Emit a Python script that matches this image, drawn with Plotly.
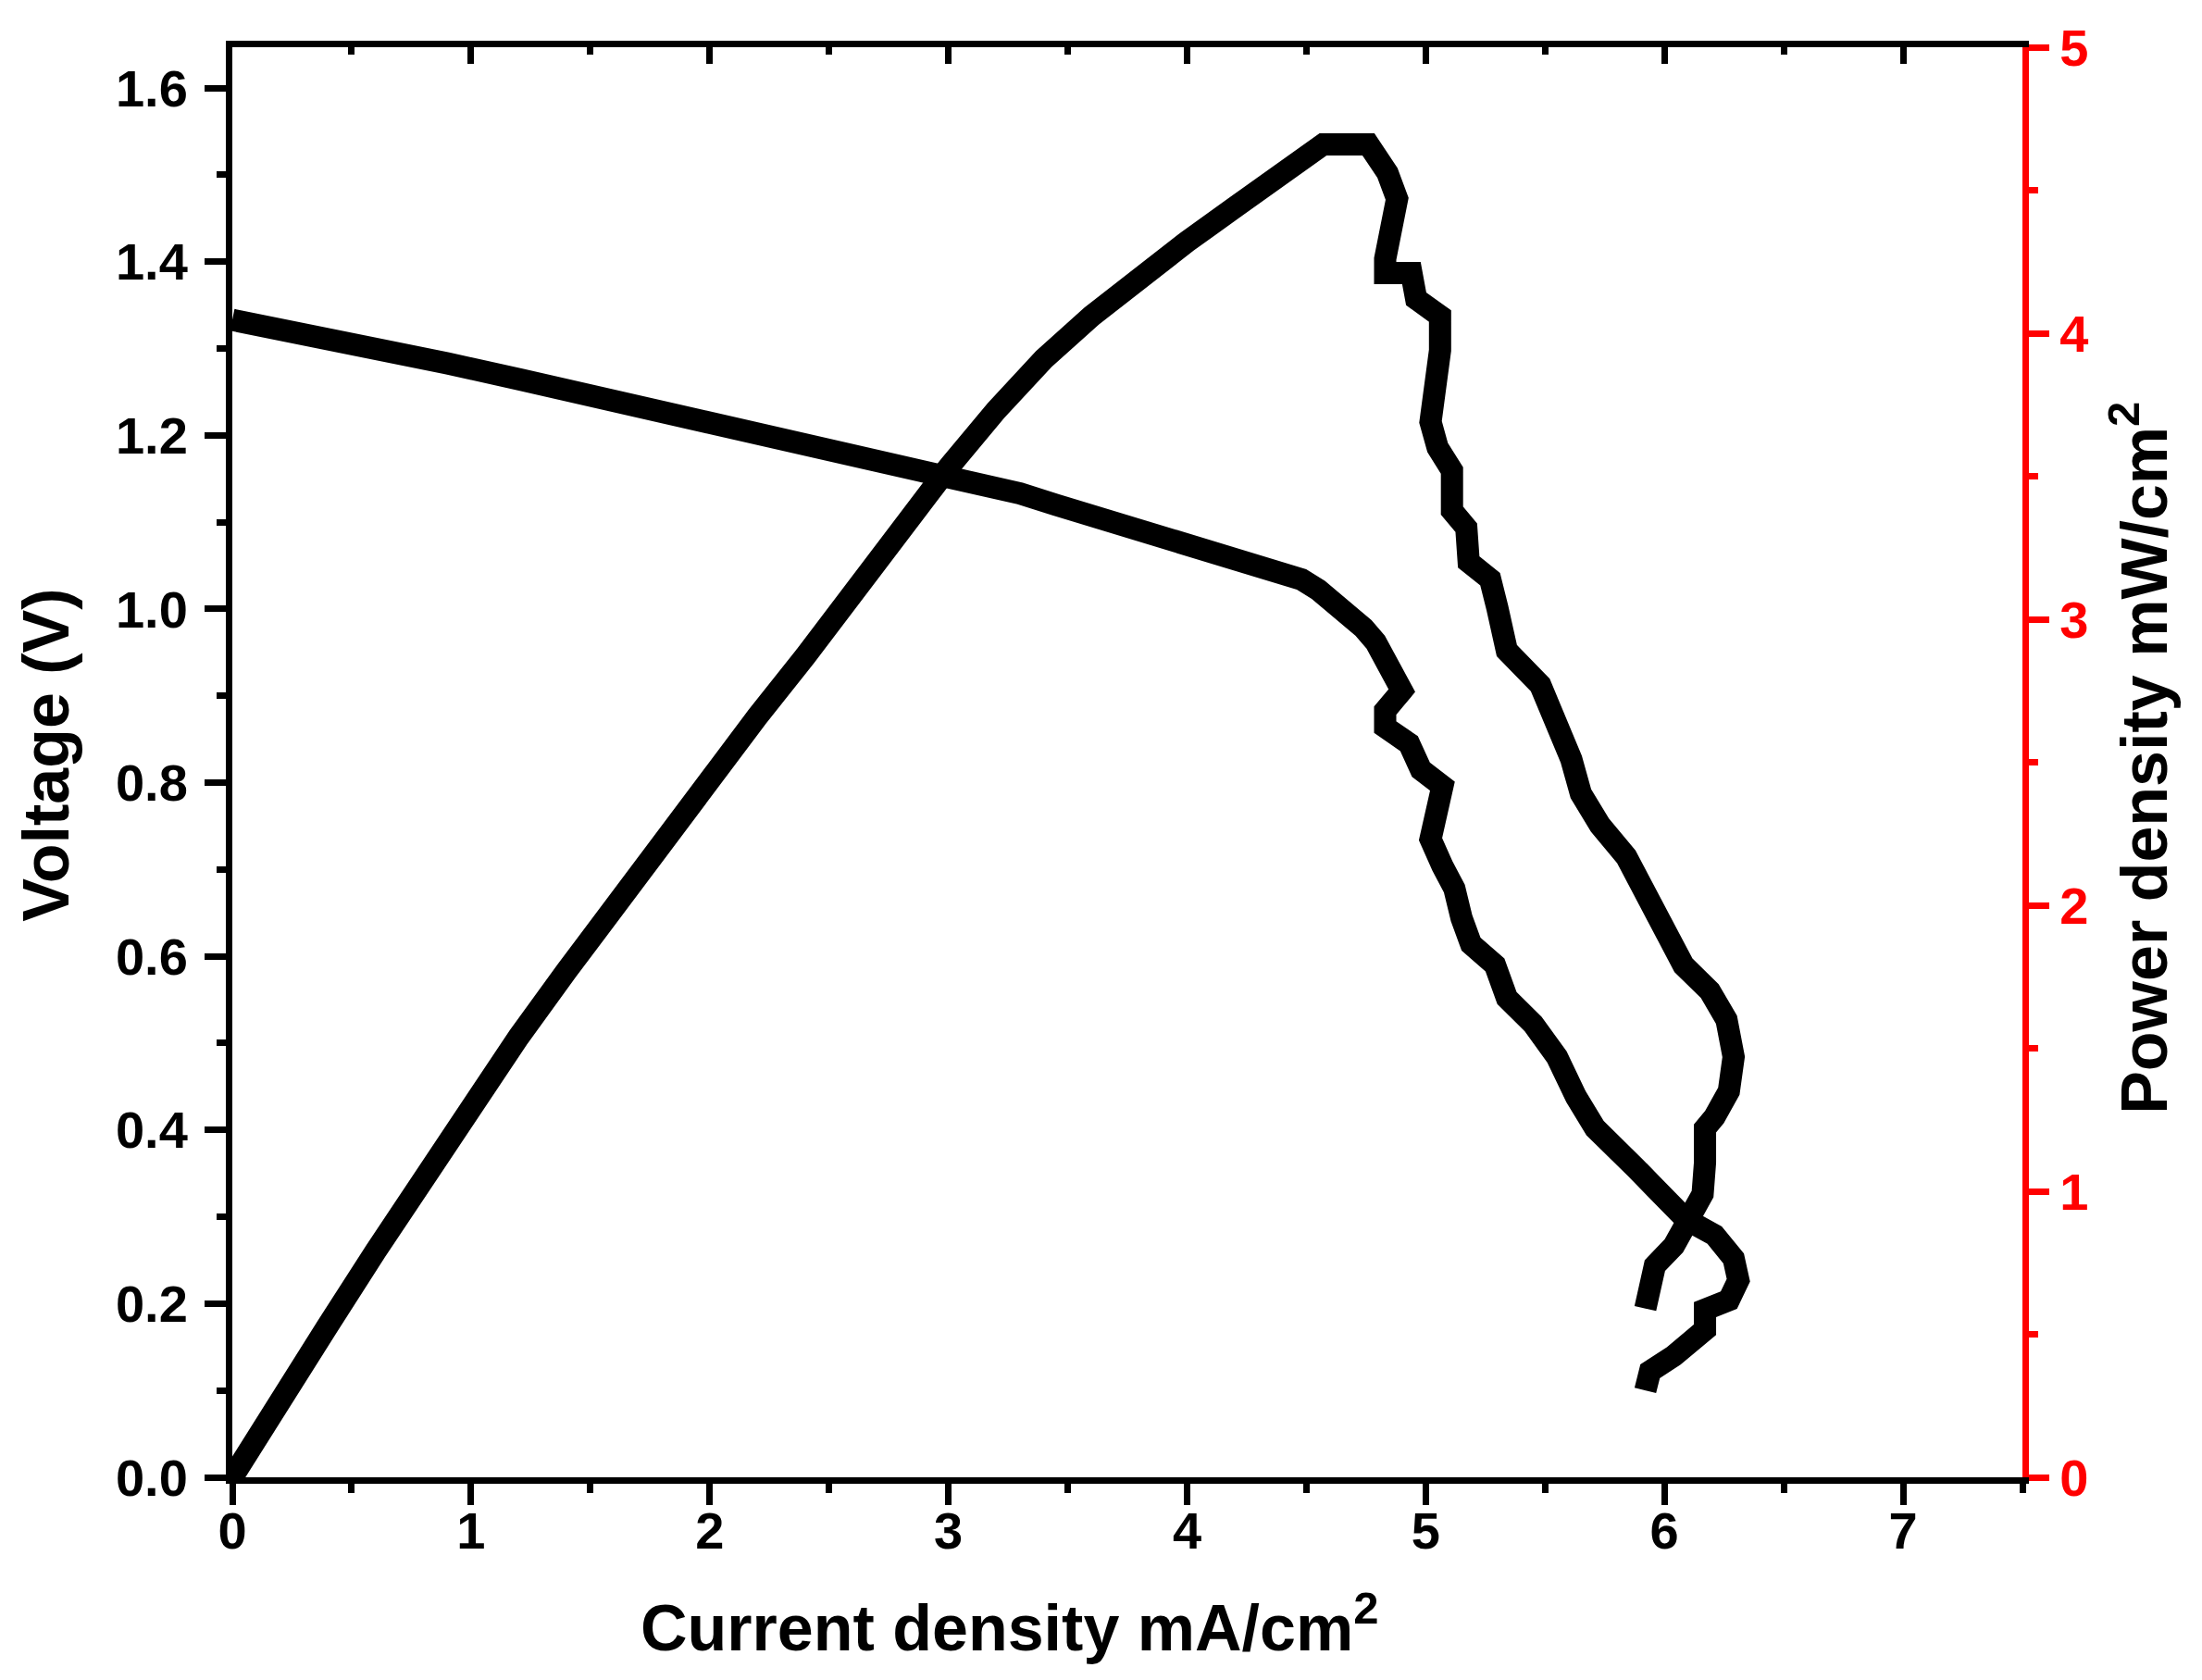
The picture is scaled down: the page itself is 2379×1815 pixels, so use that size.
import plotly.graph_objects as go

# ---------------- data ----------------
voltage_j = [0.00, 0.30, 0.60, 0.90, 1.21, 1.50, 1.83, 2.10, 2.38, 2.70, 3.00, 3.15,
             3.30, 3.45, 3.62, 3.75, 3.90, 4.05, 4.23, 4.32, 4.40, 4.48, 4.55, 4.62,
             4.68, 4.74, 4.79, 4.86, 4.90, 4.83, 4.83, 4.93,
             4.98, 5.07, 5.05, 5.02, 5.07, 5.12, 5.15, 5.19, 5.29, 5.34, 5.45, 5.55,
             5.63, 5.71, 5.88, 5.98, 6.09, 6.21, 6.29, 6.31, 6.27, 6.17, 6.17, 6.04,
             5.94, 5.92]
voltage_v = [1.333, 1.318, 1.301, 1.283, 1.264, 1.246, 1.226, 1.210, 1.192, 1.176, 1.157, 1.146,
             1.133, 1.120, 1.106, 1.096, 1.085, 1.073, 1.060, 1.052, 1.044, 1.034, 1.022, 1.008,
             0.994, 0.978, 0.962, 0.933, 0.906, 0.883, 0.864, 0.845,
             0.815, 0.796, 0.765, 0.735, 0.704, 0.678, 0.644, 0.614, 0.590, 0.552, 0.522, 0.484,
             0.438, 0.402, 0.356, 0.327, 0.297, 0.279, 0.252, 0.227, 0.204, 0.193, 0.170, 0.140,
             0.122, 0.100]

power_j = [0.00, 0.05, 0.20, 0.40, 0.60, 0.80, 1.00, 1.20, 1.40, 1.60, 1.80, 2.00,
           2.20, 2.40, 2.60, 2.80, 3.00, 3.20, 3.40, 3.60, 3.80, 4.00, 4.20, 4.40,
           4.57, 4.76, 4.84, 4.88, 4.85, 4.83, 4.83, 4.94, 4.96,
           5.06, 5.06, 5.05, 5.02, 5.05, 5.11, 5.11, 5.17, 5.18, 5.27, 5.30, 5.34,
           5.48, 5.56, 5.61, 5.65, 5.73, 5.84, 5.92, 5.99, 6.08, 6.19, 6.26, 6.29,
           6.27, 6.21, 6.17, 6.17, 6.16, 6.10, 6.04, 5.96, 5.94, 5.92]
power_p = [0.00, 0.07, 0.27, 0.53, 0.79, 1.05, 1.30, 1.54, 1.77, 2.00, 2.22, 2.44,
           2.66, 2.87, 3.10, 3.33, 3.53, 3.73, 3.91, 4.06, 4.20, 4.32, 4.44, 4.56,
           4.66, 4.66, 4.56, 4.47, 4.37, 4.26, 4.21, 4.21, 4.12,
           4.06, 3.94, 3.82, 3.69, 3.60, 3.52, 3.38, 3.32, 3.20, 3.14, 3.04, 2.89,
           2.77, 2.62, 2.51, 2.39, 2.28, 2.17, 2.05, 1.91, 1.79, 1.70, 1.60, 1.47,
           1.35, 1.26, 1.22, 1.10, 0.99, 0.90, 0.81, 0.74, 0.65, 0.59]

x_ticks = [0, 1, 2, 3, 4, 5, 6, 7]
x_tick_labels = ["0", "1", "2", "3", "4", "5", "6", "7"]
v_ticks = [0.0, 0.2, 0.4, 0.6, 0.8, 1.0, 1.2, 1.4, 1.6]
v_tick_labels = ["0.0", "0.2", "0.4", "0.6", "0.8", "1.0", "1.2", "1.4", "1.6"]
p_ticks = [0, 1, 2, 3, 4, 5]
p_tick_labels = ["0", "1", "2", "3", "4", "5"]

x_title = "Current density mA/cm<sup>2</sup>"
v_title = "Voltage (V)"
p_title = "Power density mW/cm<sup>2</sup>"

# ---------------- styling ----------------
FONT = "Liberation Sans, Arial, sans-serif"
RED = "#FF0000"
W, H = 2379, 1815
L, R, T, B = 243, 202, 40, 227
PW = W - L - R
PH = H - T - B

fig = go.Figure()
fig.add_trace(go.Scatter(x=voltage_j, y=voltage_v, mode="lines",
                         line=dict(color="black", width=24),
                         xaxis="x", yaxis="y", hoverinfo="skip"))
fig.add_trace(go.Scatter(x=power_j, y=power_p, mode="lines",
                         line=dict(color="black", width=24),
                         xaxis="x", yaxis="y2", hoverinfo="skip"))
# invisible helper so the mirrored top axis is drawn
fig.add_trace(go.Scatter(x=[0], y=[0], mode="markers", marker=dict(opacity=0),
                         xaxis="x2", yaxis="y", hoverinfo="skip"))

tickfont_black = dict(family=FONT, size=56, color="black", weight="bold")
tickfont_red = dict(family=FONT, size=56, color=RED, weight="bold")

fig.update_layout(
    width=W, height=H,
    margin=dict(l=L, r=R, t=T, b=B, pad=0),
    paper_bgcolor="white", plot_bgcolor="white",
    showlegend=False,
    xaxis=dict(range=[0, 7.5], tickmode="array", tickvals=x_ticks, ticktext=x_tick_labels,
               ticks="outside", ticklen=23, tickwidth=7, tickcolor="black",
               showline=True, linecolor="black", linewidth=7,
               showgrid=False, zeroline=False, tickfont=tickfont_black,
               ticklabelstandoff=-20,
               minor=dict(dtick=0.5, tick0=0, ticks="outside", ticklen=10, tickwidth=7,
                          tickcolor="black", showgrid=False),
               anchor="y"),
    xaxis2=dict(range=[0, 7.5], overlaying="x", side="top", anchor="y",
                tickmode="array", tickvals=x_ticks, showticklabels=False,
                ticks="inside", ticklen=18, tickwidth=7, tickcolor="black",
                showline=True, linecolor="black", linewidth=7,
                showgrid=False, zeroline=False,
                minor=dict(dtick=0.5, tick0=0, ticks="inside", ticklen=8, tickwidth=7,
                           tickcolor="black", showgrid=False)),
    yaxis=dict(range=[0, 1.647], tickmode="array", tickvals=v_ticks, ticktext=v_tick_labels,
               ticks="outside", ticklen=23, tickwidth=7, tickcolor="black",
               showline=True, linecolor="black", linewidth=7,
               showgrid=False, zeroline=False, tickfont=tickfont_black,
               ticklabelstandoff=7,
               minor=dict(dtick=0.1, tick0=0, ticks="outside", ticklen=10, tickwidth=7,
                          tickcolor="black", showgrid=False),
               anchor="x"),
    yaxis2=dict(range=[0, 5], overlaying="y", side="right", anchor="x",
                tickmode="array", tickvals=p_ticks, ticktext=p_tick_labels,
                ticks="outside", ticklen=22, tickwidth=7, tickcolor=RED,
                showline=True, linecolor=RED, linewidth=7,
                showgrid=False, zeroline=False, tickfont=tickfont_red,
                minor=dict(dtick=0.5, tick0=0, ticks="outside", ticklen=10, tickwidth=7,
                           tickcolor=RED, showgrid=False)),
    annotations=[
        dict(text=x_title, xref="paper", yref="paper",
             x=(1082 - L) / PW, y=(H - B - 1792) / PH, xanchor="center", yanchor="bottom",
             showarrow=False, font=dict(family=FONT, size=70, color="black", weight="bold")),
        dict(text=v_title, xref="paper", yref="paper", textangle=-90,
             x=(42 - L) / PW, y=0.505, xanchor="center", yanchor="middle",
             showarrow=False, font=dict(family=FONT, size=70, color="black", weight="bold")),
        dict(text=p_title, xref="paper", yref="paper", textangle=-90,
             x=(2303 - L) / PW, y=0.503, xanchor="center", yanchor="middle",
             showarrow=False, font=dict(family=FONT, size=70, color="black", weight="bold")),
    ],
)

fig.write_html("out.html")
